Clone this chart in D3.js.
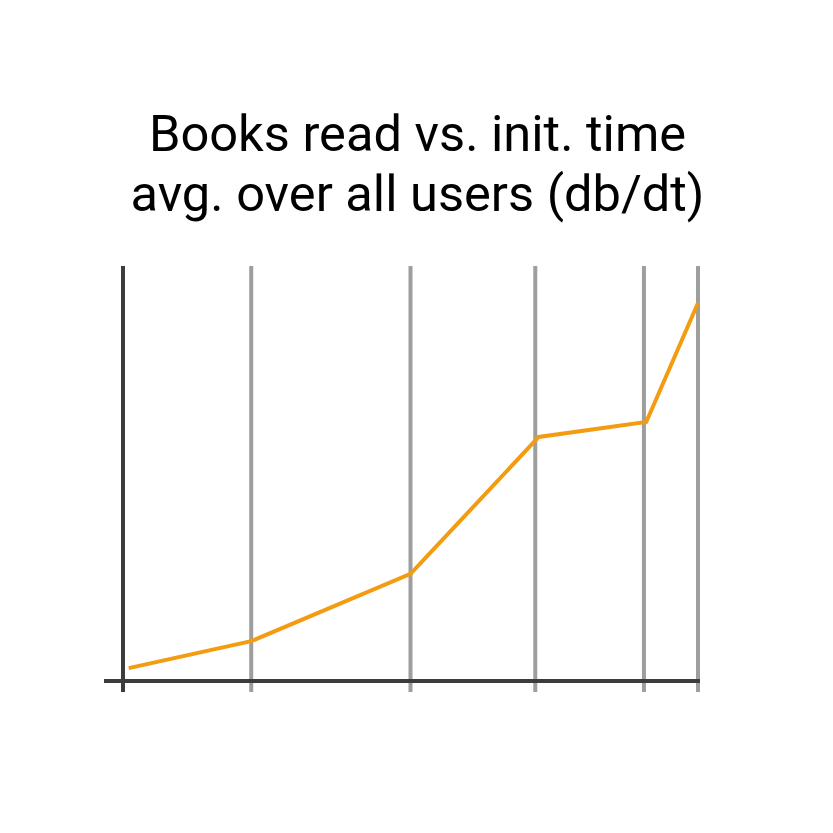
<!DOCTYPE html>
<html>
<head>
<meta charset="utf-8">
<script src="https://cdn.jsdelivr.net/npm/d3@7"></script>
<style>
  html, body { margin: 0; padding: 0; background: #fff; }
  svg { display: block; }
</style>
</head>
<body>
<svg id="chart" width="833" height="833"></svg>
<script>
// ---- data ----
const titleLines = ["Books read vs. init. time", "avg. over all users (db/dt)"];
const timeValues = [1.0, 22.3, 50.0, 72.3, 91.0, 100.0];
const booksValues = [3.1, 9.6, 25.8, 58.8, 62.4, 91.1];
const gridTicks = [22.3, 50.0, 71.7, 90.6, 100.0];

// ---- layout ----
const svg = d3.select("#chart");
const x = d3.scaleLinear().domain([0, 100]).range([123, 698]);
const y = d3.scaleLinear().domain([0, 100]).range([681, 266]);

const font = "Roboto, 'Noto Sans', sans-serif";

// title
svg.append("g").selectAll("text").data(titleLines).join("text")
  .attr("x", 417.5)
  .attr("y", (d, i) => 151 + i * 60)
  .attr("text-anchor", "middle")
  .attr("font-family", font)
  .attr("font-size", 50.6)
  .attr("fill", "#000")
  .text(d => d);

// gridlines (vertical)
svg.append("g").selectAll("line").data(gridTicks).join("line")
  .attr("x1", d => x(d)).attr("x2", d => x(d))
  .attr("y1", 266).attr("y2", 692)
  .attr("stroke", "#9e9e9e").attr("stroke-width", 4);

// left axis
svg.append("line")
  .attr("x1", x(0)).attr("x2", x(0))
  .attr("y1", 266).attr("y2", 692)
  .attr("stroke", "#3c3c3c").attr("stroke-width", 4);

// x axis
svg.append("line")
  .attr("x1", 104).attr("x2", 700)
  .attr("y1", y(0)).attr("y2", y(0))
  .attr("stroke", "#3c3c3c").attr("stroke-width", 4);

// data line
const line = d3.line().x((d, i) => x(timeValues[i])).y(d => y(d));
svg.append("path")
  .datum(booksValues)
  .attr("d", line)
  .attr("fill", "none")
  .attr("stroke", "#f39c12")
  .attr("stroke-width", 4)
  .attr("stroke-linejoin", "miter");
</script>
</body>
</html>
